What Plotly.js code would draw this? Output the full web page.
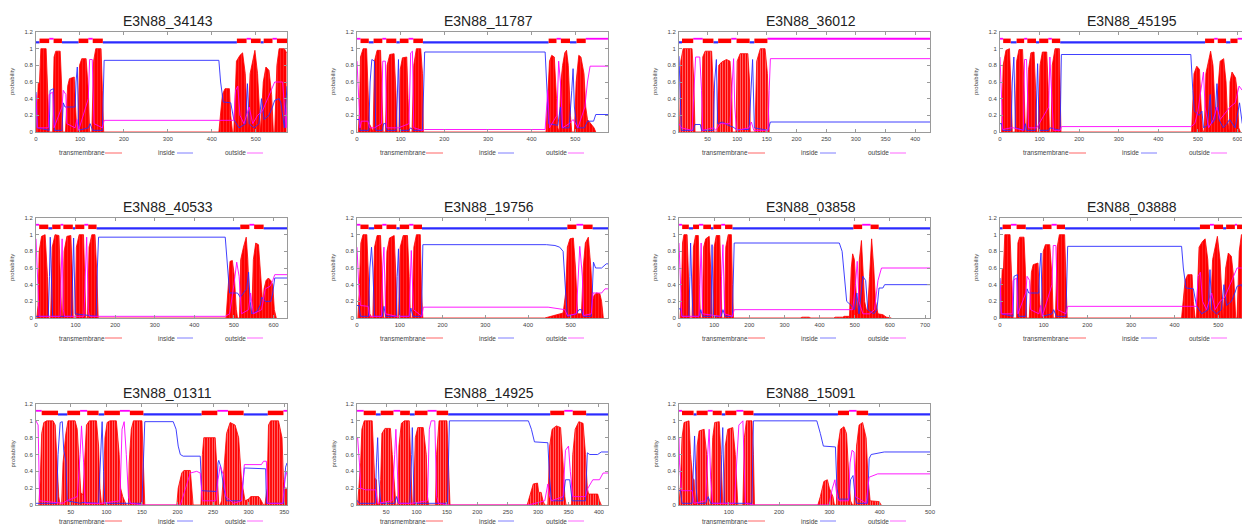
<!DOCTYPE html>
<html><head><meta charset="utf-8">
<script src="https://cdn.plot.ly/plotly-3.0.1.min.js"></script>
<style>html,body{margin:0;padding:0;overflow:hidden;background:#fff}#chart{width:1260px;height:527px}</style>
</head><body><div id="chart"></div>
<script>
// ---------- DATA ----------
const proteinNames = ['E3N88_34143','E3N88_11787','E3N88_36012','E3N88_45195','E3N88_40533','E3N88_19756','E3N88_03858','E3N88_03888','E3N88_01311','E3N88_14925','E3N88_15091'];
const seqLength = [571,575,425,634,634,587,714,575,354,415,500];
const axisStart = [0,0,2,0,0,0,0,0,1,2,1];
const tickStep = [100,100,50,100,100,100,100,100,50,50,100];
const firstSide = ['i','o','i','o','o','o','o','i','o','o','o'];
const legendLabels = ['transmembrane','inside','outside'];
const yTickVals = [0,0.2,0.4,0.6,0.8,1,1.2];

// E3N88_34143
const tm_34143_x = [1,5,8,11,23,26,30, 38,41,45,55,58,61, 67,72,76,87,90,93, 95,99,104,114,119,122, 127,131,136,148,151,154, 416,424,430,440,443,447, 450,456,464,470,476,481, 482,487,494,498,504,510, 511,517,523,530,536,540, 543,548,553,565,570];
const tm_34143_y = [0,0.58,0.6,1,1,0.5,0, 0,0.9,0.97,0.97,0.6,0, 0,0.55,0.64,0.66,0.3,0, 0,0.8,0.88,0.88,0.5,0, 0,0.85,1,1,0.5,0, 0,0.45,0.52,0.52,0.2,0, 0,0.85,0.92,0.95,0.7,0.05, 0,0.7,0.9,0.98,0.7,0.1, 0,0.6,0.78,0.74,0.45,0, 0,0.8,1,1,0.95];
const in_34143_x = [0,3,30,32,40,42,59,62,66,89,91,94,97,119,123,129,151,155,416,420,426,443,450,462,477,481,485,496,507,513,519,530,538,543,553,557,565,571];
const in_34143_y = [0.48,0.05,0.02,0.5,0.52,0.02,0.02,0.35,0.3,0.3,0.6,0.78,0.02,0.05,0.1,0.02,0.02,0.86,0.86,0.6,0.36,0.35,0.15,0.05,0.1,0.58,0.1,0.05,0.1,0.4,0.15,0.2,0.3,0.38,0.4,0.35,0.05,0.55];
const out_34143_x = [0,3,28,30,38,41,59,62,68,70,89,93,97,119,122,128,132,151,155,450,454,459,464,473,485,493,504,515,527,538,543,561,569,571];
const out_34143_y = [0.45,0.05,0.05,0.45,0.48,0.05,0.3,0.5,0.45,0.1,0.05,0.15,0.02,0.4,0.87,0.87,0.1,0.05,0.14,0.14,0.5,0.55,0.2,0.1,0.3,0.1,0.2,0.25,0.4,0.55,0.6,0.6,0.05,0.3];
const helices_34143 = [8,30, 40,59, 97,119, 129,152, 457,479, 489,511, 518,538, 548,571];

// E3N88_11787
const tm_11787_x = [3,6,8,14,22,25,28,33,36, 37,40,46,54,58,60, 65,69,75,85,89,92, 96,99,104,114,117,120, 126,130,136,146,150,152, 433,437,441,446,452,457,460, 463,467,471,476,480,484,489,492, 498,502,508,513,520,524,528,536,543,547];
const tm_11787_y = [0,0.3,0.9,1,1,0.5,0.1,0.05,0, 0,0.85,0.98,0.98,0.4,0, 0,0.8,0.93,0.94,0.5,0, 0,0.75,0.89,0.9,0.4,0, 0,0.8,1,1,0.7,0, 0,0.35,0.85,0.92,0.9,0.4,0.05, 0,0.6,0.8,0.95,0.98,0.8,0.2,0, 0,0.6,0.92,0.9,0.7,0.3,0.15,0.1,0.05,0];
const in_11787_x = [0,5,7,27,30,34,40,43,58,61,66,68,90,93,95,98,119,123,129,150,155,431,435,439,460,466,469,486,492,495,498,504,521,528,542,547,575];
const in_11787_y = [0.15,0.15,0.02,0.02,0.6,0.87,0.85,0.02,0.02,0.1,0.1,0.02,0.02,0.6,0.87,0.02,0.02,0.05,0.02,0.02,0.96,0.96,0.6,0.1,0.08,0.3,0.05,0.05,0.5,0.76,0.3,0.05,0.05,0.13,0.13,0.21,0.21];
const out_11787_x = [0,4,7,10,25,29,40,56,59,65,68,90,95,119,123,127,130,150,155,431,437,441,458,462,466,471,486,495,506,522,528,534,575];
const out_11787_y = [0.85,0.4,0.05,0.13,0.13,0.05,0.05,0.1,0.85,0.85,0.05,0.05,0.05,0.1,0.95,0.97,0.05,0.02,0.03,0.03,0.5,0.05,0.2,0.85,0.6,0.05,0.1,0.15,0.05,0.3,0.6,0.79,0.79];
const helices_11787 = [8,27, 38,58, 67,90, 98,118, 129,151, 439,457, 467,488, 503,524];

// E3N88_36012
const tm_36012_x = [3,5,9,24,27,29, 40,42,46,57,60,61, 66,69,74,82,88,91,92, 98,100,105,118,121,122, 130,133,139,147,151,154];
const tm_36012_y = [0,0.85,1,1,0.6,0, 0,0.9,0.97,0.97,0.5,0, 0,0.8,0.84,0.87,0.85,0.5,0, 0,0.85,0.94,0.94,0.6,0, 0,0.85,1,1,0.7,0];
const in_36012_x = [2,4,6,26,29,38,40,60,62,65,67,75,85,93,99,120,123,126,129,152,156,425];
const in_36012_y = [0.91,0.3,0.02,0.02,0.09,0.09,0.02,0.02,0.6,0.87,0.1,0.12,0.08,0.06,0.03,0.03,0.5,0.87,0.05,0.02,0.12,0.12];
const out_36012_x = [2,6,24,27,30,37,40,42,60,64,71,88,92,94,96,99,120,124,128,152,154,156,425];
const out_36012_y = [0.1,0.05,0.02,0.5,0.9,0.9,0.5,0.02,0.05,0.02,0.1,0.1,0.6,0.88,0.3,0.02,0.05,0.12,0.02,0.02,0.5,0.88,0.88];
const helices_36012 = [7,26, 42,60, 68,90, 99,121, 129,151];

// E3N88_45195
const tm_45195_x = [4,8,15,24,28,31, 38,42,48,57,61,64, 67,72,78,86,90,93, 97,101,107,118,122,125, 129,132,139,150,152,154, 484,490,497,504,507,511,514, 516,520,527,532,538,543,548,550,556,565,571,575,579,581,586,595,600,603,607];
const tm_45195_y = [0,0.8,0.98,1,0.5,0, 0,0.85,0.99,0.99,0.5,0, 0,0.75,0.95,0.96,0.5,0, 0,0.8,0.96,0.96,0.5,0, 0,0.8,1,1,0.5,0, 0,0.7,0.79,0.75,0.4,0.05,0, 0,0.7,0.88,0.97,0.8,0.3,0.25,0.5,0.85,0.88,0.6,0.15,0,0.6,0.72,0.65,0.45,0.05,0];
const in_45195_x = [0,4,7,28,31,35,39,61,64,67,90,93,95,99,123,126,152,155,482,487,491,503,510,514,524,531,535,543,548,553,564,573,580,594,605,612,634];
const in_45195_y = [0.1,0.1,0.02,0.02,0.6,0.9,0.05,0.02,0.1,0.02,0.02,0.5,0.82,0.02,0.02,0.05,0.02,0.93,0.93,0.5,0.25,0.2,0.25,0.05,0.08,0.45,0.1,0.15,0.58,0.15,0.05,0.1,0.15,0.05,0.35,0.1,0.1];
const out_45195_x = [0,4,7,28,34,59,62,67,72,93,123,126,131,135,152,155,482,492,500,510,514,518,527,539,548,556,573,581,594,604,612,634];
const out_45195_y = [0.9,0.3,0.03,0.05,0.05,0.02,0.87,0.87,0.05,0.05,0.3,0.9,0.3,0.02,0.02,0.065,0.065,0.1,0.25,0.6,0.72,0.3,0.05,0.15,0.3,0.15,0.25,0.3,0.35,0.55,0.5,0.5];
const helices_45195 = [8,27, 42,61, 69,91, 99,122, 131,152, 518,541, 550,571, 582,600];

// E3N88_40533
const tm_40533_x = [2,5,8,14,23,29,32, 37,41,48,58,62,65, 67,71,78,88,92,94, 99,102,109,120,123,126, 130,134,141,149,154,157, 480,484,490,496,501,506,509, 514,517,524,531,535,539,543,545,549,555,562,566,570,573,576,581,587,593,598,602,607];
const tm_40533_y = [0,0.15,0.8,0.98,1,0.5,0, 0,0.85,1,0.99,0.5,0, 0,0.8,0.98,0.99,0.5,0, 0,0.85,1,1,0.5,0, 0,0.85,1,1,0.5,0, 0,0.3,0.68,0.69,0.5,0.1,0, 0,0.7,0.85,0.97,0.7,0.2,0.05,0.05,0.7,0.9,0.88,0.6,0.3,0.15,0.35,0.45,0.48,0.45,0.4,0.1,0];
const in_40533_x = [0,31,34,36,40,42,90,93,95,99,152,155,158,478,484,489,509,516,532,537,541,545,558,566,570,579,593,598,603,634];
const in_40533_y = [0.02,0.02,0.5,0.97,0.3,0.02,0.02,0.5,0.96,0.05,0.02,0.6,0.97,0.97,0.6,0.3,0.3,0.25,0.35,0.55,0.2,0.05,0.08,0.15,0.25,0.2,0.2,0.3,0.48,0.48];
const out_40533_x = [0,4,8,61,63,66,69,72,121,125,128,132,135,478,489,500,507,513,519,537,542,549,570,579,591,598,603,634];
const out_40533_y = [0.95,0.4,0.02,0.02,0.6,0.95,0.1,0.02,0.02,0.7,0.97,0.1,0.02,0.02,0.05,0.4,0.67,0.5,0.05,0.1,0.3,0.05,0.1,0.35,0.38,0.45,0.52,0.52];
const helices_40533 = [8,31, 41,62, 69,93, 99,122, 132,153, 516,539, 551,575];

// E3N88_19756
const tm_19756_x = [2,5,9,14,23,27,30,35, 37,41,47,55,59,62, 66,70,76,87,91,94, 97,101,108,118,122,125, 129,133,139,148,151,154, 439,463,482,488,492,498,506,511,516,525,529,534,541,547,551,554,560,568,572,576];
const tm_19756_y = [0,0.3,0.9,1,1,0.5,0.05,0, 0,0.85,0.99,0.99,0.4,0, 0,0.8,0.96,0.99,0.5,0, 0,0.85,0.99,0.99,0.5,0, 0,0.85,1,1,0.3,0, 0,0.03,0.06,0.3,0.85,0.95,0.96,0.6,0.05,0.05,0.6,0.9,0.97,0.6,0.2,0.27,0.3,0.29,0.2,0];
const in_19756_x = [0,5,8,27,30,34,37,41,59,63,67,92,94,97,100,122,126,131,151,154,443,463,474,482,488,492,513,519,525,529,548,553,558,572,583,587];
const in_19756_y = [0.15,0.15,0.02,0.02,0.6,0.85,0.6,0.02,0.02,0.14,0.02,0.02,0.5,0.83,0.02,0.02,0.12,0.02,0.02,0.88,0.88,0.87,0.85,0.8,0.3,0.02,0.05,0.1,0.1,0.02,0.02,0.67,0.6,0.6,0.65,0.65];
const out_19756_x = [0,4,8,26,30,57,60,63,67,92,122,124,127,132,152,155,447,486,492,513,518,521,527,530,548,552,572,580,587];
const out_19756_y = [0.85,0.4,0.15,0.14,0.02,0.02,0.6,0.85,0.05,0.02,0.02,0.5,0.81,0.1,0.02,0.13,0.13,0.1,0.03,0.05,0.6,0.86,0.5,0.03,0.05,0.3,0.3,0.35,0.35];
const helices_19756 = [8,27, 40,59, 69,92, 100,122, 132,152, 492,513, 529,551];

// E3N88_03858
const tm_03858_x = [3,7,10,14,23,28,31, 37,41,47,55,58,61, 66,70,76,86,91,94, 97,100,106,116,120,122, 129,133,140,149,152,155, 345,350,370,375, 440,445,466,470,485,490,494,499,504,507,511,513,519,523,528,533,537,542,548,554,559,566,580,590,604];
const tm_03858_y = [0,0.3,0.9,1,1,0.4,0, 0,0.85,0.99,0.99,0.4,0, 0,0.85,0.95,0.98,0.5,0, 0,0.85,0.99,0.99,0.4,0, 0,0.85,1,1,0.4,0, 0,0.01,0.01,0, 0,0.01,0.01,0.02,0.02,0.6,0.77,0.7,0.3,0.05,0.3,0.7,0.93,0.6,0.2,0.1,0.1,0.5,0.95,0.6,0.2,0.05,0.04,0.01,0];
const in_03858_x = [0,5,9,28,31,33,37,40,57,62,67,91,94,98,120,125,131,152,157,456,464,470,477,490,499,506,512,523,531,537,554,563,569,580,585,714];
const in_03858_y = [0.11,0.11,0.02,0.02,0.5,0.9,0.3,0.02,0.02,0.1,0.02,0.02,0.88,0.02,0.02,0.1,0.02,0.02,0.9,0.9,0.8,0.5,0.2,0.15,0.1,0.3,0.05,0.5,0.45,0.1,0.05,0.1,0.36,0.36,0.4,0.4];
const out_03858_x = [0,4,8,57,60,63,67,118,121,125,130,152,157,485,494,502,507,512,523,542,556,566,576,714];
const out_03858_y = [0.9,0.3,0.02,0.02,0.6,0.9,0.05,0.02,0.5,0.88,0.05,0.02,0.1,0.1,0.1,0.4,0.68,0.2,0.05,0.05,0.1,0.45,0.6,0.6];
const helices_03858 = [9,28, 40,57, 69,91, 98,120, 131,152, 496,521, 545,568];

// E3N88_03888
const tm_03888_x = [1,5,8,11,23,26,30, 38,41,45,55,58,61, 67,72,76,87,90,93, 95,99,104,114,119,122, 127,131,136,148,151,154, 416,424,430,440,443,447, 450,456,464,470,476,481, 482,487,494,498,504,510, 511,517,523,530,536,540, 543,548,553,565,574];
const tm_03888_y = [0,0.58,0.6,1,1,0.5,0, 0,0.9,0.97,0.97,0.6,0, 0,0.55,0.64,0.66,0.3,0, 0,0.8,0.88,0.88,0.5,0, 0,0.85,1,1,0.5,0, 0,0.45,0.52,0.52,0.2,0, 0,0.85,0.92,0.95,0.7,0.05, 0,0.7,0.9,0.98,0.7,0.1, 0,0.6,0.78,0.74,0.45,0, 0,0.8,1,1,0.95];
const in_03888_x = [0,3,30,32,40,42,59,62,66,89,91,94,97,119,123,129,151,155,416,420,426,443,450,462,477,481,485,496,507,513,519,530,538,543,553,557,565,575];
const in_03888_y = [0.48,0.05,0.02,0.5,0.52,0.02,0.02,0.35,0.3,0.3,0.6,0.78,0.02,0.05,0.1,0.02,0.02,0.86,0.86,0.6,0.36,0.35,0.15,0.05,0.1,0.58,0.1,0.05,0.1,0.4,0.15,0.2,0.3,0.38,0.4,0.35,0.05,0.55];
const out_03888_x = [0,3,28,30,38,41,59,62,68,70,89,93,97,119,122,128,132,151,155,450,454,459,464,473,485,493,504,515,527,538,543,561,569,575];
const out_03888_y = [0.45,0.05,0.05,0.45,0.48,0.05,0.3,0.5,0.45,0.1,0.05,0.15,0.02,0.4,0.87,0.87,0.1,0.05,0.14,0.14,0.5,0.55,0.2,0.1,0.3,0.1,0.2,0.25,0.4,0.55,0.6,0.6,0.05,0.3];
const helices_03888 = [6,25, 38,59, 98,118, 130,149, 458,481, 490,511, 518,538, 543,575];

// E3N88_01311
const tm_01311_x = [5,7,9,12,16,25,28,31,33,35, 37,39,43,46,56,59,62,64,67,70,72,76,86,89,91,93, 95,98,101,105,114,118,120,123,125,128, 131,132,135,138,150,153,154, 199,201,206,209,218,220,222, 233,235,237,253,255,258, 260,262,266,269,274,281,286,290,295,300,303,314,316,321, 323,326,328,331,342,347,349,351,354];
const tm_01311_y = [0,0.3,0.85,0.98,1,1,0.95,0.5,0.1,0, 0,0.5,0.85,1,1,0.9,0.5,0.15,0.12,0.6,0.95,1,1,0.7,0.2,0.02, 0,0.8,0.98,1,1,0.6,0.2,0.1,0.05,0, 0,0.5,0.9,1,1,0.3,0, 0,0.2,0.38,0.41,0.41,0.2,0, 0,0.6,0.8,0.8,0.5,0, 0,0.05,0.5,0.85,0.98,0.95,0.8,0.3,0.05,0.07,0.1,0.1,0.08,0, 0,0.2,0.95,1,1,0.8,0.3,0.2,0.2];
const in_01311_x = [1,30,32,35,38,40,43,45,63,67,89,92,94,96,98,125,150,152,154,194,198,201,204,208,232,234,255,257,258,261,265,269,290,294,321,324,325,349,352,354];
const in_01311_y = [0.02,0.02,0.6,0.98,0.99,0.65,0.52,0.05,0.02,0.03,0.02,0.6,0.99,0.4,0.02,0.02,0.02,0.5,0.99,0.99,0.9,0.7,0.6,0.58,0.58,0.17,0.16,0.5,0.53,0.45,0.2,0.05,0.05,0.44,0.43,0.43,0.02,0.02,0.45,0.5];
const out_01311_x = [1,4,6,39,44,59,63,65,68,70,93,119,122,125,128,131,134,154,204,211,218,227,232,235,254,257,260,265,268,279,290,294,318,321,325,327,348,351,354];
const out_01311_y = [1,0.95,0.05,0.02,0.05,0.1,0.6,0.94,0.5,0.02,0.02,0.05,0.9,0.99,0.6,0.1,0.02,0,0,0.2,0.38,0.4,0.38,0.05,0.05,0.3,0.46,0.35,0.1,0.02,0.05,0.48,0.48,0.52,0.52,0.02,0.02,0.3,0.4];
const helices_01311 = [9,32, 45,63, 73,89, 97,119, 133,152, 234,256, 271,293, 327,349];

// E3N88_14925
const tm_14925_x = [3,6,8,10,14,27,29,31,34,35,37, 38,41,43,48,57,60,64,66, 69,71,75,80,88,91,93, 95,98,102,111,116,118,120, 131,133,137,150,152,155, 282,286,292,299,301,305,308,311, 316,319,323,330,337,341,344,346, 355,357,361,367,374,378,381,383,398,401,404];
const tm_14925_y = [0,0.25,0.5,0.9,1,1,0.6,0.32,0.3,0.05,0, 0,0.3,0.85,0.91,0.91,0.6,0.1,0, 0,0.7,0.97,1,1,0.5,0, 0,0.8,0.92,0.92,0.6,0.1,0, 0,0.6,1,1,0.6,0, 0,0.1,0.25,0.26,0.15,0.15,0.05,0, 0,0.7,0.9,0.94,0.92,0.5,0.1,0, 0,0.6,0.9,0.99,0.97,0.6,0.2,0.13,0.13,0.05,0];
const in_14925_x = [2,3,6,32,34,36,38,41,64,67,70,89,92,93,96,151,154,284,289,294,316,319,322,341,345,352,356,378,381,385,398,404,415];
const in_14925_y = [0.05,0.05,0.02,0.02,0.5,0.8,0.3,0.02,0.02,0.1,0.02,0.02,0.6,0.92,0.02,0.02,1,1,0.9,0.75,0.74,0.3,0.05,0.05,0.3,0.3,0.05,0.05,0.62,0.6,0.6,0.63,0.63];
const out_14925_x = [2,3,6,8,16,33,36,60,64,66,69,71,92,118,121,124,130,133,136,154,284,311,316,319,322,341,345,350,353,357,378,382,390,401,407,415];
const out_14925_y = [0.8,0.8,0.5,0.2,0.18,0.18,0.02,0.05,0.6,0.9,0.3,0.02,0.02,0.05,0.9,1,1,0.1,0.02,0,0,0.05,0.25,0.1,0.05,0.1,0.65,0.7,0.4,0.1,0.1,0.2,0.3,0.3,0.38,0.38];
const helices_14925 = [13,33, 41,62, 73,89, 97,118, 133,152, 320,343, 357,379];

// E3N88_15091
const tm_15091_x = [1,4,7,11,21,24,28,31,33, 34,37,41,51,56,59,61, 64,68,72,81,85,88, 90,93,98,108,113,116,118, 128,131,135,146,149,151, 277,282,289,296,300,304,307,310, 314,317,322,329,334,339,342,346, 349,354,359,366,373,377,381,399,403];
const tm_15091_y = [0,0.25,0.8,0.98,1,0.6,0.32,0.3,0, 0,0.7,0.88,0.9,0.6,0.1,0, 0,0.8,0.98,0.99,0.5,0, 0,0.7,0.9,0.92,0.6,0.1,0, 0,0.8,1,1,0.6,0, 0,0.1,0.28,0.3,0.2,0.15,0.1,0, 0,0.7,0.9,0.93,0.85,0.3,0.05,0, 0,0.7,0.95,0.98,0.8,0.3,0.05,0.04,0];
const in_15091_x = [1,4,7,27,30,32,35,38,54,59,64,83,86,88,91,146,149,275,282,288,312,315,319,339,342,347,351,354,376,379,383,406,409,500];
const in_15091_y = [0.17,0.17,0.02,0.02,0.5,0.82,0.2,0.02,0.02,0.1,0.02,0.02,0.6,0.92,0.02,0.02,1,1,0.85,0.7,0.69,0.2,0.07,0.07,0.3,0.35,0.1,0.02,0.02,0.55,0.6,0.62,0.63,0.63];
const out_15091_x = [1,2,6,27,31,54,58,61,64,68,111,116,120,128,131,133,151,299,306,311,315,319,338,341,345,349,352,373,379,386,396,500];
const out_15091_y = [0.8,0.5,0.17,0.17,0.02,0.05,0.6,0.9,0.3,0.02,0.02,0.5,0.95,1,0.2,0.02,0,0,0.2,0.3,0.1,0.05,0.05,0.5,0.65,0.63,0.1,0.02,0.33,0.35,0.37,0.37];
const helices_15091 = [7,30, 36,58, 68,86, 93,115, 129,149, 317,339, 354,377];

// ---------- assemble ----------
const series = [
  [tm_34143_x,tm_34143_y,in_34143_x,in_34143_y,out_34143_x,out_34143_y,helices_34143],
  [tm_11787_x,tm_11787_y,in_11787_x,in_11787_y,out_11787_x,out_11787_y,helices_11787],
  [tm_36012_x,tm_36012_y,in_36012_x,in_36012_y,out_36012_x,out_36012_y,helices_36012],
  [tm_45195_x,tm_45195_y,in_45195_x,in_45195_y,out_45195_x,out_45195_y,helices_45195],
  [tm_40533_x,tm_40533_y,in_40533_x,in_40533_y,out_40533_x,out_40533_y,helices_40533],
  [tm_19756_x,tm_19756_y,in_19756_x,in_19756_y,out_19756_x,out_19756_y,helices_19756],
  [tm_03858_x,tm_03858_y,in_03858_x,in_03858_y,out_03858_x,out_03858_y,helices_03858],
  [tm_03888_x,tm_03888_y,in_03888_x,in_03888_y,out_03888_x,out_03888_y,helices_03888],
  [tm_01311_x,tm_01311_y,in_01311_x,in_01311_y,out_01311_x,out_01311_y,helices_01311],
  [tm_14925_x,tm_14925_y,in_14925_x,in_14925_y,out_14925_x,out_14925_y,helices_14925],
  [tm_15091_x,tm_15091_y,in_15091_x,in_15091_y,out_15091_x,out_15091_y,helices_15091]
];

// ---------- layout geometry (pixels) ----------
const W = 1260, H = 527;
const colLeft = [36, 357, 679, 1000];
const plotW = 251;
const rows = [
  {top:32, bot:132, title:21, leg:153},
  {top:218, bot:318, title:207, leg:338},
  {top:404, bot:505, title:393, leg:521}
];
const RED = '#ff0000', BLUE = '#2b2bff', MAG = '#ff00ff';
const FONT = 'Liberation Sans, Arial, sans-serif';
const levelTM = 1.094, levelIn = 1.076, levelOut = 1.119;

const traces = [];
const layout = {
  width: W, height: H, margin:{l:0,r:0,t:0,b:0},
  paper_bgcolor:'#fff', plot_bgcolor:'#fff', showlegend:false,
  font:{family:FONT}, annotations:[], shapes:[]
};

function splitSegments(seg, first, start, end){
  const inside=[], outside=[], tm=[];
  let side = first, prev = start;
  for (let k=0;k<seg.length;k+=2){
    const s=seg[k], e=seg[k+1];
    (side==='i'?inside:outside).push(prev, s, null);
    tm.push(s, e, null);
    prev = e; side = side==='i'?'o':'i';
  }
  (side==='i'?inside:outside).push(prev, end, null);
  return {inside, outside, tm};
}
const levelArr = (xs, v) => xs.map(x => x===null ? null : v);

proteinNames.forEach((name, i) => {
  const r = rows[Math.floor(i/4)], L = colLeft[i%4];
  const n = i+1, xa = 'x'+(n===1?'':n), ya = 'y'+(n===1?'':n);
  const [tx,ty,ix,iy,ox,oy,hel] = series[i];
  const sparse = seqLength[i] < 520;
  traces.push({x:tx, y:ty, xaxis:xa, yaxis:ya, type:'scatter', mode:'lines',
    line:{color:RED, width:0.8}, fill:'tozeroy', fillcolor:RED,
    fillpattern:{shape:'|', bgcolor:RED, fgcolor:'#ffffff', fgopacity: sparse?0.6:0.3, size: sparse?2.5:3, solidity: sparse?0.3:0.15},
    hoverinfo:'skip'});
  traces.push({x:ix, y:iy, xaxis:xa, yaxis:ya, type:'scatter', mode:'lines', line:{color:BLUE, width:0.9}, hoverinfo:'skip'});
  traces.push({x:ox, y:oy, xaxis:xa, yaxis:ya, type:'scatter', mode:'lines', line:{color:MAG, width:0.9}, hoverinfo:'skip'});
  const topo = splitSegments(hel, firstSide[i], axisStart[i], seqLength[i]);
  traces.push({x:topo.inside, y:levelArr(topo.inside, levelIn), xaxis:xa, yaxis:ya, type:'scatter', mode:'lines', line:{color:BLUE, width:2.2}, hoverinfo:'skip'});
  traces.push({x:topo.outside, y:levelArr(topo.outside, levelOut), xaxis:xa, yaxis:ya, type:'scatter', mode:'lines', line:{color:MAG, width:1.8}, hoverinfo:'skip'});
  traces.push({x:topo.tm, y:levelArr(topo.tm, levelTM), xaxis:xa, yaxis:ya, type:'scatter', mode:'lines', line:{color:RED, width:4.5}, hoverinfo:'skip'});

  const axCommon = {showgrid:false, zeroline:false, showline:true, mirror:'allticks', linecolor:'#9a9a9a', linewidth:1,
    ticks:'inside', ticklen:3, tickcolor:'#9a9a9a', tickwidth:1, tickfont:{size:6, color:'#444', family:FONT}, fixedrange:true};
  layout['xaxis'+(n===1?'':n)] = Object.assign({}, axCommon, {
    anchor: ya, domain:[L/W, (L+plotW)/W], range:[axisStart[i], seqLength[i]], tick0:0, dtick:tickStep[i], ticklabelstandoff:1});
  layout['yaxis'+(n===1?'':n)] = Object.assign({}, axCommon, {
    anchor: xa, domain:[1-r.bot/H, 1-r.top/H], range:[0,1.2], tickvals:yTickVals, ticktext:yTickVals.map(String), ticklabelstandoff:1});

  layout.annotations.push({text:name, xref:'paper', yref:'paper', x:(L+plotW/2+6)/W, y:1-r.title/H,
    xanchor:'center', yanchor:'middle', showarrow:false, font:{size:14, color:'#222', family:FONT}});
  layout.annotations.push({text:'probability', xref:'paper', yref:'paper', x:(L-24)/W, y:1-((r.top+r.bot)/2)/H,
    xanchor:'center', yanchor:'middle', textangle:-90, showarrow:false, font:{size:6, color:'#444', family:FONT}});
  const legCols = [RED, BLUE, MAG], legText = [46, 130, 199], legLine = [[69,86],[141,157],[211,227]];
  legendLabels.forEach((lab, k) => {
    layout.annotations.push({text:lab, xref:'paper', yref:'paper', x:(L+legText[k])/W, y:1-r.leg/H,
      xanchor:'center', yanchor:'middle', showarrow:false, font:{size:6.5, color:'#444', family:FONT}});
    layout.shapes.push({type:'line', xref:'paper', yref:'paper', x0:(L+legLine[k][0])/W, x1:(L+legLine[k][1])/W,
      y0:1-r.leg/H, y1:1-r.leg/H, line:{color:legCols[k], width:1}, opacity:0.6});
  });
});

Plotly.newPlot('chart', traces, layout, {staticPlot:true, displayModeBar:false});
</script>
</body></html>
